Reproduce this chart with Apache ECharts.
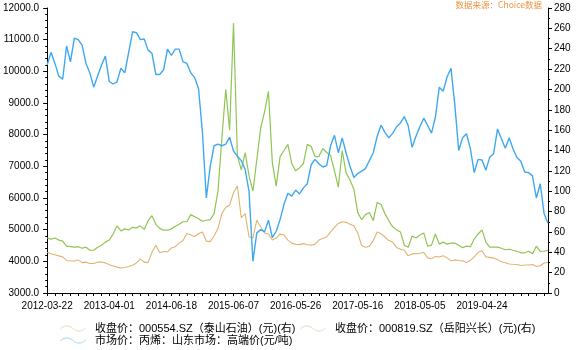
<!DOCTYPE html>
<html><head><meta charset="utf-8">
<script src="https://cdn.jsdelivr.net/npm/echarts@6/dist/echarts.min.js"></script>
<style>html,body{margin:0;padding:0;background:#fff}#c{width:576px;height:350px}</style>
</head><body><div id="c"></div>
<script>
const tickLabels = ['2012-03-22','2013-04-01','2014-06-18','2015-06-07','2016-05-26','2017-05-16','2018-05-05','2019-04-24'];
const seriesNames = ['收盘价：000554.SZ（泰山石油）(元)(右)','收盘价：000819.SZ（岳阳兴长）(元)(右)','市场价：丙烯：山东市场：高端价(元/吨)'];
const propylene = [
10200,10600,10250,9850,9750,10800,10300,11050,11000,10830,
10250,9950,9500,9850,10200,10480,9680,9600,9670,10100,
9950,10600,11250,11220,11000,11020,10670,10570,9900,9900,
10050,10700,10500,10700,10700,10300,10250,9950,9800,9450,
8060,6000,7000,7650,7700,7650,7700,7920,7480,7320,
7180,6900,6200,4000,4900,5000,4930,5300,4750,4950,
5320,5800,6150,6060,6250,6130,6320,6450,7050,7220,
7080,6980,7020,7650,7980,7430,7900,7420,7000,6650,
6770,6850,6930,7180,7430,7950,8300,8070,7900,8040,
8250,8370,8570,8280,7600,7950,8250,8520,8290,8050,
8550,9500,9370,9820,10100,8950,7500,7900,8030,7560,
6800,7220,7200,6880,7290,7400,8180,7870,7570,7900,
7550,7280,7160,6820,6800,6700,6000,6450,5500,5200];
const yueyang = [
54,53,54,52,51,46,45.5,45,45.5,44,
45,42,42,45,47,50,52,58,66,61,
63,62,64.5,64,66,62.5,71,76,67.5,63.5,
61.7,61.7,63,65.5,67.5,70,70,77,75,73,
70.5,71.5,72,78,100,152,200,160,265,135,
121,138,115,100,131,162,178,198,128,105,
134,140,146,127,120,123,127,146,144,134,
134,142,138,135,120,104,140,118,111,102,
79,72,77,79,71,89,87,78,71,65,
62,60,47,45,56,54,57,59,46,47,
58,48,50,48,49,49,47,44.5,46,45.5,
53,58,62,50,45,45,45,44,42.5,43,
42,41,39.5,39.5,41,38.5,46,41,41,42];
const taishan = [
40,38.5,37.5,36.5,35.5,32,31.5,31.5,32.5,29.8,
30.3,29,29,30.3,30.5,29.6,27.8,26.6,25.4,24.6,
25,26,27.2,29.5,33.5,30.3,29.8,40,47,39.6,
40.8,40.5,44.3,45.5,49,51.5,58.5,57,55.5,58.5,
60,51,50.5,56,63.5,78,84,86.5,98.5,105,
74,78,55,54,71.5,65,59,58,52,54,
58,57,52,49,47.8,47.5,48.5,47.4,47,48,
52,53.7,55,60,64.4,68.3,70,69.4,67.6,66,
59,46.6,45,46,51.5,60,58.3,55,51.5,50,
44.8,43,42,36.5,38.4,38.7,39,40,34.5,33.6,
36,35.3,36.6,34.5,31.6,32.5,32,31.6,30,32,
35.5,40,41.5,35.5,35,34.3,32.8,30.7,29.8,28.5,
28.2,28,27,27.5,27.5,28,26,26.8,29.5,30];

const PER = 16; // categories between labelled dates
const DAY = 86400000;
const anchors = tickLabels.map(s => Date.parse(s));
const categories = propylene.map((_, i) => {
  const seg = Math.floor(i / PER), f = (i % PER) / PER;
  let ms;
  if (seg < anchors.length - 1) ms = anchors[seg] + (anchors[seg + 1] - anchors[seg]) * f;
  else ms = anchors[anchors.length - 1] + (i - (anchors.length - 1) * PER) * 354 * DAY / PER;
  return new Date(ms).toISOString().slice(0, 10);
});

const FONT = '"Liberation Sans", Arial, "Noto Sans CJK SC", sans-serif';
const colTan = '#E0B470', colGreen = '#8FC553', colBlue = '#3FA9F0';
const wave = 'path://M0,6 C6,0 12,0 18,5 C24,10 30,10 36,4 L36,5.4 C30,11.4 24,11.4 18,6.4 C12,1.4 6,1.4 0,7.4 Z';
const legendBase = { icon: wave, itemWidth: 26, itemHeight: 8, padding: 0, selectedMode: false,
  textStyle: { fontSize: 11, color: '#000', fontFamily: FONT, padding: [0,0,0,4] } };

const chart = echarts.init(document.getElementById('c'), null, { renderer: 'canvas' });
chart.setOption({
  animation: false,
  backgroundColor: '#fff',
  grid: { left: 47, right: 28, top: 8, bottom: 57, containLabel: false },
  graphic: [{ type: 'text', right: 34, top: 1, style: { text: '数据来源：Choice数据', fill: '#EC9443', font: '8.5px "Noto Sans CJK SC", sans-serif' } }],
  legend: [
    Object.assign({}, legendBase, { left: 60, top: 323, data: [{ name: seriesNames[0], itemStyle: { color: '#EFE2C4' } }] }),
    Object.assign({}, legendBase, { left: 300, top: 323, data: [{ name: seriesNames[1], itemStyle: { color: '#DCE6CF' } }] }),
    Object.assign({}, legendBase, { left: 60, top: 335, data: [{ name: seriesNames[2], itemStyle: { color: '#B5DBF5' } }] })
  ],
  xAxis: {
    type: 'category', data: categories, boundaryGap: false,
    axisLine: { lineStyle: { color: '#000', width: 1 } },
    axisTick: { interval: 1, length: 3, lineStyle: { color: '#000' } },
    axisLabel: { interval: PER - 1, color: '#000', fontSize: 10, fontFamily: FONT, margin: 8,
      formatter: v => tickLabels.indexOf(v) >= 0 ? v : '' },
    splitLine: { show: false }
  },
  yAxis: [
    { type: 'value', min: 3000, max: 12000, interval: 1000, position: 'left',
      axisLine: { show: true, lineStyle: { color: '#000' } },
      axisTick: { show: true, length: 4, lineStyle: { color: '#000' } },
      minorTick: { show: true, splitNumber: 5, length: 2, lineStyle: { color: '#000' } },
      axisLabel: { color: '#000', fontSize: 10, fontFamily: FONT, margin: 8, formatter: v => v.toFixed(1) },
      splitLine: { show: false } },
    { type: 'value', min: 0, max: 280, interval: 20, position: 'right',
      axisLine: { show: true, lineStyle: { color: '#000' } },
      axisTick: { show: true, length: 4, lineStyle: { color: '#000' } },
      minorTick: { show: true, splitNumber: 2, length: 2, lineStyle: { color: '#000' } },
      axisLabel: { color: '#000', fontSize: 10, fontFamily: FONT, margin: 6 },
      splitLine: { show: false } }
  ],
  series: [
    { name: seriesNames[0], type: 'line', yAxisIndex: 1, data: taishan, showSymbol: false, symbol: 'none',
      lineStyle: { color: colTan, width: 1.1 }, itemStyle: { color: colTan } },
    { name: seriesNames[1], type: 'line', yAxisIndex: 1, data: yueyang, showSymbol: false, symbol: 'none',
      lineStyle: { color: colGreen, width: 1.2 }, itemStyle: { color: colGreen } },
    { name: seriesNames[2], type: 'line', yAxisIndex: 0, data: propylene, showSymbol: false, symbol: 'none',
      lineStyle: { color: colBlue, width: 1.4 }, itemStyle: { color: colBlue } }
  ]
});
</script></body></html>
